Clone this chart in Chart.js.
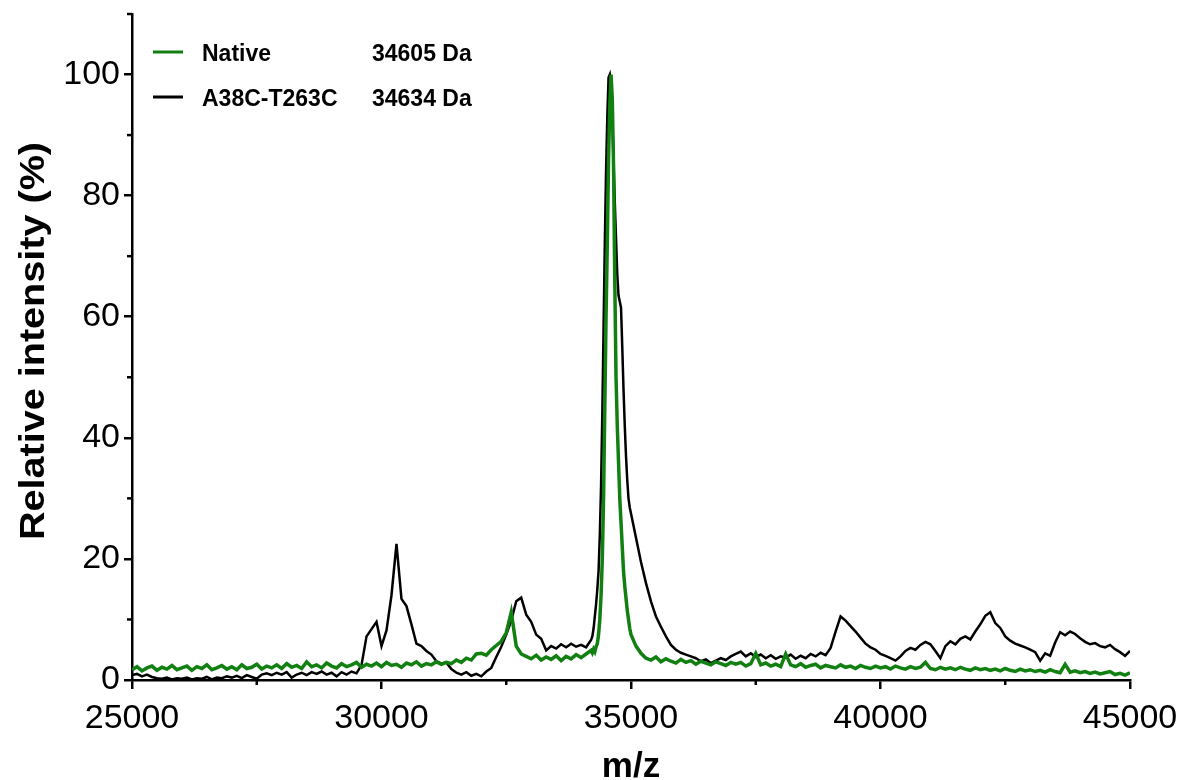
<!DOCTYPE html>
<html>
<head>
<meta charset="utf-8">
<script src="https://cdn.jsdelivr.net/npm/chart.js@4.4.1/dist/chart.umd.min.js"></script>
<style>
  html, body { margin: 0; padding: 0; background: #fff; }
  #wrap { width: 1194px; height: 780px; position: relative; }
</style>
</head>
<body>
<div id="wrap"><canvas id="c" width="1194" height="780"></canvas></div>
<script>
// ---- m/z grid: coarse 100 Da, fine 25 Da around main peak ----
const GRID_SEGMENTS = [
  [25000, 34200, 100],
  [34225, 35000, 25],
  [35100, 45000, 100]
];

// ---- Native (green) relative intensity, per grid point ----
const nativeLow = [
  1.7, 2.2, 1.5, 2.0, 2.3, 1.6, 2.1, 1.8, 2.4, 1.7,
  2.0, 2.3, 1.6, 2.2, 1.9, 2.5, 1.7, 2.0, 2.4, 1.8,
  2.2, 1.7, 2.5, 1.9, 2.1, 2.6, 1.8, 2.3, 2.0, 2.5,
  1.9, 2.7, 2.1, 2.4, 1.9, 3.0, 2.2, 2.5, 2.0, 2.8,
  2.3, 2.0, 2.7, 2.2, 2.5, 2.9, 2.1, 2.6, 2.3, 2.8,
  2.2, 2.9, 2.4, 2.6, 2.1, 2.8, 2.5, 3.0, 2.3, 2.7,
  2.5, 3.0, 2.6, 2.9, 2.7, 3.3, 2.9, 3.6, 3.3, 4.3,
  4.4, 4.1, 5.0, 5.7, 6.4, 7.8, 11.2, 5.6, 4.3, 3.9,
  3.5, 4.1, 3.3, 3.8, 3.4, 4.0, 3.2, 3.9, 3.5, 4.2,
  3.7, 4.3, 4.9
];
const nativePeak = [
  4.5, 5.1, 4.7, 5.5, 6.0, 7.5, 10.0, 14.0, 20, 30,
  45, 60, 72, 86, 95, 100, 96, 85, 66, 50,
  42, 36, 30, 26, 22, 18, 15.5, 13.5, 11.5, 10,
  8.5, 7.5
];
const nativeHigh = [
  5.6, 4.4, 3.6, 3.3, 3.8, 3.0, 3.5, 3.1, 2.8, 3.4,
  2.9, 3.2, 2.6, 3.1, 2.8, 2.5, 3.0, 2.7, 2.4, 2.9,
  2.6, 2.9, 2.3, 2.7, 4.4, 2.5, 2.8, 2.3, 2.6, 2.2,
  4.3, 2.5, 2.2, 2.7, 2.1, 2.4, 2.6, 2.0, 2.4, 2.2,
  2.0, 2.5, 2.1, 2.3, 1.9, 2.4, 2.1, 1.9, 2.3, 2.0,
  2.2, 1.8, 2.3, 2.0, 1.8, 2.2, 1.9, 2.1, 2.9, 1.9,
  1.7, 2.1, 1.8, 2.0, 1.7, 2.1, 1.8, 1.6, 2.0, 1.7,
  1.9, 1.6, 1.8, 1.5, 1.9, 1.6, 1.4, 1.8, 1.5, 1.7,
  1.4, 1.6, 1.3, 1.7, 1.4, 1.2, 2.6, 1.3, 1.5, 1.2,
  1.4, 1.1, 1.3, 1.0, 1.2, 1.4, 0.9, 1.1, 0.8, 1.2
];

// ---- A38C-T263C (black) relative intensity, per grid point ----
const mutantLow = [
  0.8, 1.0, 0.6, 0.9, 0.5, 0.3, 0.2, 0.4, 0.1, 0.3,
  0.2, 0.4, 0.1, 0.3, 0.2, 0.5, 0.1, 0.4, 0.3, 0.6,
  0.4, 0.7, 0.3, 0.8, 0.5, 0.2, 0.9, 1.1, 0.8, 1.2,
  0.9, 1.3, 0.4, 0.9, 1.2, 0.8, 1.3, 1.0, 1.4, 0.9,
  1.2, 0.6, 1.3, 0.9, 1.4, 1.1, 2.5, 7.2, 8.4, 9.6,
  5.6, 8.2, 14.0, 22.5, 13.4, 12.2, 9.2, 6.0, 5.6, 4.8,
  4.2, 3.1, 2.7, 2.9, 1.8, 1.2, 0.9, 1.3, 0.7, 1.0,
  0.6, 1.4, 2.0, 3.8, 5.5, 7.5, 9.8, 13.0, 13.6, 10.8,
  9.6, 7.5, 6.8, 4.9, 5.6, 5.2, 5.9, 5.4, 6.0, 5.5,
  5.8, 5.4, 6.6
];
const mutantPeak = [
  7.2, 8.5, 10.5, 12.5, 15, 18, 24, 32, 44, 58,
  72, 84, 93, 99.5, 100, 98, 93, 86, 79, 73,
  67, 63.5, 62.5, 61.5, 55, 48, 42, 37, 33, 30,
  28.5, 27.5
];
const mutantHigh = [
  23.5, 19.5, 16, 13, 10.5, 8.8, 7.2, 5.8, 5.0, 4.5,
  4.2, 3.9, 3.6, 3.1, 3.4, 2.8, 3.2, 3.6, 3.3, 3.9,
  4.3, 4.7, 3.9, 4.4, 3.8, 4.2, 3.6, 4.1, 3.5, 3.9,
  3.7, 4.2, 3.5, 4.0, 3.6, 4.3, 3.9, 4.5, 4.1, 5.3,
  8.0, 10.5, 9.8, 8.9, 8.0, 7.0, 6.0, 5.4, 5.0, 4.3,
  4.0, 3.6, 3.2, 3.9, 4.8, 5.3, 5.0, 5.8, 6.3, 5.9,
  4.8, 3.6, 5.6, 6.4, 5.9, 6.8, 7.2, 6.7, 8.0, 9.2,
  10.6, 11.2, 9.4, 8.6, 7.2, 6.5, 6.0, 5.7, 5.4, 5.0,
  4.6, 3.2, 4.4, 4.0, 6.2, 7.9, 7.4, 8.0, 7.6, 6.9,
  6.3, 5.9, 6.1, 5.6, 5.4, 5.8, 5.1, 4.6, 4.0, 4.8
];

// ---- axis ticks & labels ----
const xMajorTicks = [25000, 30000, 35000, 40000, 45000];
const xMinorTicks = [27500, 32500, 37500, 42500];
const yMajorTicks = [0, 20, 40, 60, 80, 100];
const yMinorTicks = [10, 30, 50, 70, 90, 110];
const legendNames = ['Native', 'A38C-T263C'];
const legendMasses = ['34605 Da', '34634 Da'];
const seriesColors = ['#118011', '#000000'];

// build grid and point objects
const mz = [];
GRID_SEGMENTS.forEach(([a, b, s]) => { for (let v = a; v <= b; v += s) mz.push(v); });
const nativeVals = nativeLow.concat(nativePeak, nativeHigh);
const mutantVals = mutantLow.concat(mutantPeak, mutantHigh);
const toPts = vals => mz.map((x, i) => ({ x: x, y: vals[i] }));

const FONT = '"Liberation Sans", Arial, Helvetica, sans-serif';

const decor = {
  id: 'decor',
  afterDraw(chart) {
    const ctx = chart.ctx;
    const xs = chart.scales.x, ys = chart.scales.y;
    const ca = chart.chartArea;
    ctx.save();
    ctx.strokeStyle = '#000';
    ctx.lineWidth = 2.5;
    // minor ticks
    xMinorTicks.forEach(v => {
      const px = xs.getPixelForValue(v);
      ctx.beginPath(); ctx.moveTo(px, ca.bottom); ctx.lineTo(px, ca.bottom + 5); ctx.stroke();
    });
    yMinorTicks.forEach(v => {
      const py = ys.getPixelForValue(v);
      ctx.beginPath(); ctx.moveTo(ca.left, py); ctx.lineTo(ca.left - 5, py); ctx.stroke();
    });
    // legend
    ctx.font = 'bold 23px ' + FONT;
    ctx.textBaseline = 'alphabetic';
    ctx.textAlign = 'left';
    const rows = [52, 97];
    rows.forEach((ry, i) => {
      ctx.strokeStyle = seriesColors[i];
      ctx.lineWidth = 3;
      ctx.beginPath(); ctx.moveTo(153, ry); ctx.lineTo(183, ry); ctx.stroke();
      ctx.fillStyle = '#000';
      ctx.fillText(legendNames[i], 202, ry + 9);
      ctx.fillText(legendMasses[i], 372, ry + 9);
    });
    // y title (stretched along its length like the reference)
    ctx.save();
    ctx.font = 'bold 35px ' + FONT;
    const yt = 'Relative intensity (%)';
    const w = ctx.measureText(yt).width;
    ctx.translate(44, 341);
    ctx.rotate(-Math.PI / 2);
    ctx.scale(398 / w, 1);
    ctx.textAlign = 'center';
    ctx.fillStyle = '#000';
    ctx.fillText(yt, 0, 0);
    ctx.restore();
    // x title
    ctx.font = 'bold 35px ' + FONT;
    ctx.textAlign = 'center';
    ctx.fillStyle = '#000';
    ctx.fillText('m/z', (ca.left + ca.right) / 2, 777);
    ctx.restore();
  }
};

new Chart(document.getElementById('c'), {
  type: 'line',
  data: {
    datasets: [
      { label: legendNames[0], data: toPts(nativeVals), borderColor: seriesColors[0],
        borderWidth: 3.5, pointRadius: 0, tension: 0, fill: false },
      { label: legendNames[1], data: toPts(mutantVals), borderColor: seriesColors[1],
        borderWidth: 2.5, pointRadius: 0, tension: 0, fill: false }
    ]
  },
  options: {
    responsive: false,
    animation: false,
    events: [],
    layout: { padding: { top: 14, right: 64, left: 0, bottom: 0 } },
    plugins: { legend: { display: false }, tooltip: { enabled: false } },
    scales: {
      x: {
        type: 'linear', min: 25000, max: 45000,
        afterFit(s) { s.height = 100; s.paddingLeft = 0; s.paddingRight = 0; },
        afterBuildTicks(s) { s.ticks = xMajorTicks.map(v => ({ value: v })); },
        grid: { display: true, drawOnChartArea: false, drawTicks: true, tickLength: 9, lineWidth: 2.5, color: '#000' },
        border: { display: true, width: 2.5, color: '#000' },
        ticks: { color: '#000', font: { family: FONT, size: 34 }, padding: 9, maxRotation: 0,
                 callback: v => String(v) }
      },
      y: {
        type: 'linear', min: 0, max: 110,
        afterFit(s) { s.width = 132; s.paddingTop = 0; s.paddingBottom = 0; },
        afterBuildTicks(s) { s.ticks = yMajorTicks.map(v => ({ value: v })); },
        grid: { display: true, drawOnChartArea: false, drawTicks: true, tickLength: 8, lineWidth: 2.5, color: '#000' },
        border: { display: true, width: 2.5, color: '#000' },
        ticks: { color: '#000', font: { family: FONT, size: 34 }, padding: 4,
                 callback: v => String(v) }
      }
    }
  },
  plugins: [decor]
});
</script>
</body>
</html>
